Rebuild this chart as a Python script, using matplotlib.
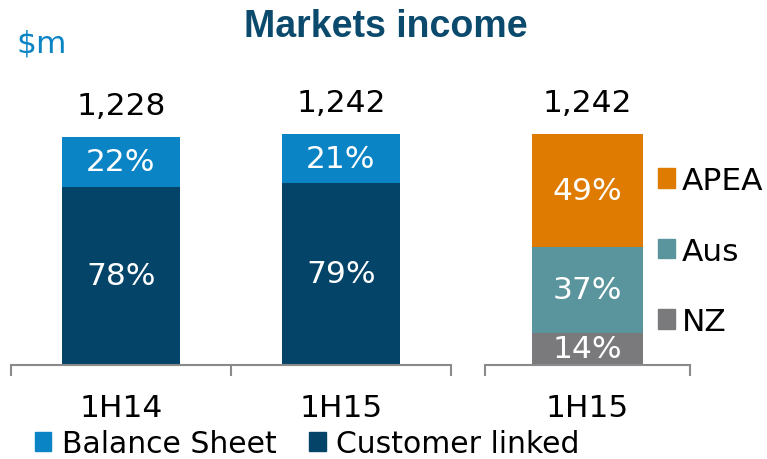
import numpy as np
import matplotlib.pyplot as plt
from matplotlib.patches import Patch

# Datos
periods = ['1H14', '1H15']
totals = [1228, 1242]
balance_pct = [22, 21]
customer_pct = [78, 79]

geo_period = ['1H15']
geo_total = [1242]
geo_names = ['NZ', 'Aus', 'APEA']
geo_pct = [14, 37, 49]

c_balance = '#0a84c4'
c_customer = '#034468'
geo_colors = ['#7a7a7c', '#5a949c', '#df7b00']
c_title = '#0b4a6c'
c_axis = '#8a8a8a'

plt.rcParams['font.family'] = ['DejaVu Sans']
FS = 22.5

fig = plt.figure(figsize=(7.67, 4.60), dpi=100)
ax1 = fig.add_axes([0.0143, 0.2043, 0.5737, 0.566])
ax2 = fig.add_axes([0.6323, 0.2043, 0.2673, 0.566])


def style_axis(ax, n):
    for s in ['top', 'left', 'right']:
        ax.spines[s].set_visible(False)
    ax.spines['bottom'].set_color(c_axis)
    ax.spines['bottom'].set_linewidth(1.5)
    ax.set_xlim(-0.5, n - 0.5)
    ax.set_ylim(0, 1400)
    ax.set_yticks([])
    ax.set_xticks(np.arange(n + 1) - 0.5, minor=True)
    ax.tick_params(axis='x', which='minor', length=8, width=1.5, color=c_axis, direction='out')
    ax.tick_params(axis='x', which='major', length=0, labelsize=FS, pad=20)


# panel izquierdo
x = np.arange(len(periods))
cust = np.array(totals) * np.array(customer_pct) / 100
bal = np.array(totals) - cust
w = 0.536
ax1.bar(x, cust, w, color=c_customer)
ax1.bar(x, bal, w, bottom=cust, color=c_balance)
for i in range(len(periods)):
    ax1.text(x[i], cust[i] / 2, f'{customer_pct[i]}%', color='white', fontsize=FS,
             ha='center', va='center')
    ax1.text(x[i], cust[i] + bal[i] / 2, f'{balance_pct[i]}%', color='white', fontsize=FS,
             ha='center', va='center')
    ax1.annotate(f'{totals[i]:,}', (x[i], totals[i]), xytext=(0, 12), textcoords='offset points',
                 ha='center', va='bottom', fontsize=FS)
style_axis(ax1, len(periods))
ax1.set_xticks(x)
ax1.set_xticklabels(periods)

# panel derecho
bottom = 0.0
geo_handles = []
for name, pct, col in zip(geo_names, geo_pct, geo_colors):
    val = geo_total[0] * pct / 100
    ax2.bar(0, val, 0.537, bottom=bottom, color=col)
    ax2.text(0, bottom + val / 2, f'{pct}%', color='white', fontsize=FS, ha='center', va='center')
    bottom += val
    geo_handles.append(Patch(color=col, label=name))
ax2.annotate(f'{geo_total[0]:,}', (0, geo_total[0]), xytext=(0, 12), textcoords='offset points',
             ha='center', va='bottom', fontsize=FS)
style_axis(ax2, 1)
ax2.set_xticks([0])
ax2.set_xticklabels(geo_period)

fig.legend(handles=geo_handles[::-1], loc='center left', bbox_to_anchor=(0.837, 0.452),
           frameon=False, fontsize=FS, handlelength=0.57, handleheight=0.57,
           handletextpad=0.2, labelspacing=1.33, borderpad=0)

fig.legend(handles=[Patch(color=c_balance, label='Balance Sheet'),
                    Patch(color=c_customer, label='Customer linked')],
           loc='lower left', bbox_to_anchor=(0.026, -0.03), ncol=2, frameon=False, fontsize=21.5,
           handlelength=0.55, handleheight=0.6, handletextpad=0.35, columnspacing=1.1,
           borderpad=0)

fig.text(0.503, 0.942, 'Markets income', fontsize=27, fontweight='bold', color=c_title,
         family=['Liberation Sans', 'DejaVu Sans'], ha='center', va='center')
fig.text(0.022, 0.905, '$m', fontsize=FS, color=c_balance, ha='left', va='center')

fig.savefig('out.png', dpi=100)
